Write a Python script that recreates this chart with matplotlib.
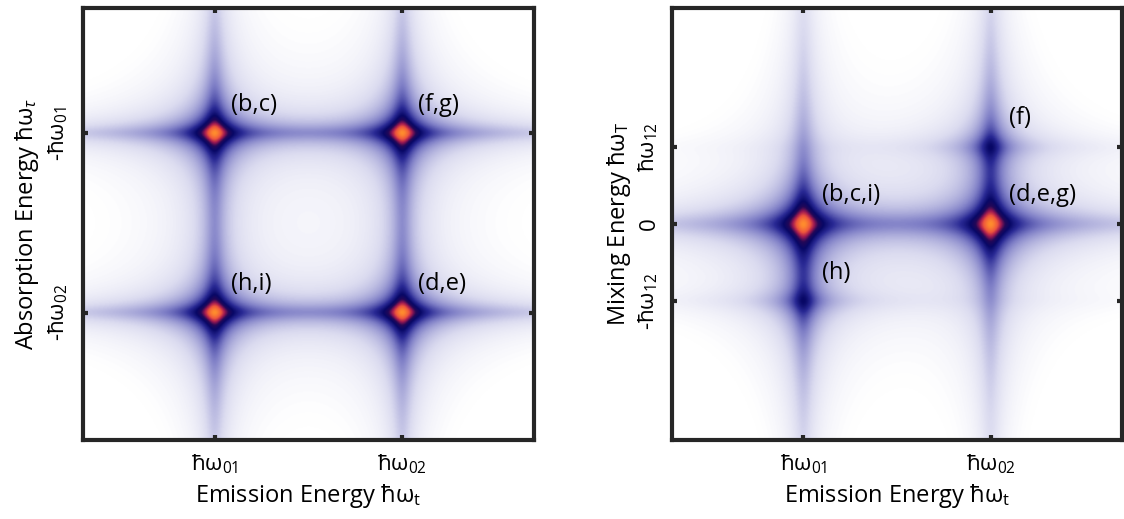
import numpy as np
import matplotlib
matplotlib.use("Agg")
import matplotlib.pyplot as plt
from matplotlib.colors import LinearSegmentedColormap

plt.rcParams["font.family"] = ["Open Sans", "DejaVu Sans"]
plt.rcParams["mathtext.fontset"] = "custom"
plt.rcParams["mathtext.rm"] = "Open Sans"
plt.rcParams["mathtext.it"] = "Open Sans:italic"

# peak positions (emission, absorption / mixing) and relative amplitudes
left_x = [1.0, 2.0, 1.0, 2.0]
left_y = [-1.0, -1.0, -2.0, -2.0]
left_amp = [1.0, 1.0, 1.0, 1.0]
left_labels = ["(b,c)", "(f,g)", "(h,i)", "(d,e)"]

right_x = [1.0, 2.0, 2.0, 1.0]
right_y = [0.0, 0.0, 1.0, -1.0]
right_amp = [1.0, 1.0, 0.32, 0.32]
right_labels = ["(b,c,i)", "(d,e,g)", "(f)", "(h)"]

emis_ticks = [1.0, 2.0]
emis_ticklabels = ["ħω$_{01}$", "ħω$_{02}$"]
abs_ticks = [-1.0, -2.0]
abs_ticklabels = ["-ħω$_{01}$", "-ħω$_{02}$"]
mix_ticks = [1.0, 0.0, -1.0]
mix_ticklabels = ["ħω$_{12}$", "0", "-ħω$_{12}$"]

cmap = LinearSegmentedColormap.from_list("spec", [
    (0.00, (1.0, 1.0, 1.0)),
    (0.05, (1.0, 1.0, 1.0)),
    (0.14, (0.86, 0.86, 0.94)),
    (0.30, (0.50, 0.50, 0.78)),
    (0.44, (0.16, 0.16, 0.58)),
    (0.54, (0.03, 0.03, 0.40)),
    (0.63, (0.14, 0.03, 0.34)),
    (0.73, (0.62, 0.10, 0.32)),
    (0.84, (0.93, 0.33, 0.24)),
    (1.00, (1.00, 0.55, 0.18)),
])


def field(px, py, amp, xlim, ylim, gx, gy):
    x = np.linspace(xlim[0], xlim[1], 700)
    y = np.linspace(ylim[0], ylim[1], 700)
    X, Y = np.meshgrid(x, y)
    Z = np.zeros_like(X)
    for x0, y0, a in zip(px, py, amp):
        Z += a * gx * gy / (np.sqrt((X - x0) ** 2 + gx ** 2) * np.sqrt((Y - y0) ** 2 + gy ** 2))
    Z = Z / Z.max()
    return np.clip(Z, 0, 1) ** 0.7


def style(ax):
    for s in ax.spines.values():
        s.set_linewidth(3.0)
        s.set_color("#262626")
    ax.tick_params(direction="in", length=3.5, width=3.0, color="#262626",
                   top=True, right=True, labelsize=16, pad=9)


fig = plt.figure(figsize=(11.24, 5.19), dpi=100)
ax1 = fig.add_axes([83 / 1124, 79 / 519, 451 / 1124, 432 / 519])
ax2 = fig.add_axes([672 / 1124, 79 / 519, 450 / 1124, 432 / 519])

xlim = (0.30, 2.70)
ylim1 = (-2.71, -0.30)
Z1 = field(left_x, left_y, left_amp, xlim, ylim1, 0.042, 0.042)
ax1.imshow(Z1, extent=[*xlim, *ylim1], origin="lower", aspect="auto",
           cmap=cmap, vmin=0, vmax=1, interpolation="bilinear")
ax1.set_xlim(*xlim); ax1.set_ylim(*ylim1)
ax1.set_xticks(emis_ticks, emis_ticklabels)
ax1.set_yticks(abs_ticks, abs_ticklabels, rotation=90, va="center")
ax1.set_xlabel("Emission Energy ħω$_\\mathrm{t}$", fontsize=17, labelpad=4)
ax1.set_ylabel("Absorption Energy ħω$_{\\tau}$", fontsize=17, labelpad=4)
for x0, y0, lab in zip(left_x, left_y, left_labels):
    ax1.text(x0 + 0.085, y0 + 0.16, lab, fontsize=17, va="center", ha="left")
style(ax1)

ylim2 = (-2.8, 2.8)
Z2 = field(right_x, right_y, right_amp, xlim, ylim2, 0.045, 0.13)
ax2.imshow(Z2, extent=[*xlim, *ylim2], origin="lower", aspect="auto",
           cmap=cmap, vmin=0, vmax=1, interpolation="bilinear")
ax2.set_xlim(*xlim); ax2.set_ylim(*ylim2)
ax2.set_xticks(emis_ticks, emis_ticklabels)
ax2.set_yticks(mix_ticks, mix_ticklabels, rotation=90, va="center")
ax2.set_xlabel("Emission Energy ħω$_\\mathrm{t}$", fontsize=17, labelpad=4)
ax2.set_ylabel("Mixing Energy ħω$_\\mathrm{T}$", fontsize=17, labelpad=2)
for x0, y0, lab in zip(right_x, right_y, right_labels):
    ax2.text(x0 + 0.10, y0 + 0.37, lab, fontsize=17, va="center", ha="left")
style(ax2)

fig.savefig("out.png", dpi=100)
